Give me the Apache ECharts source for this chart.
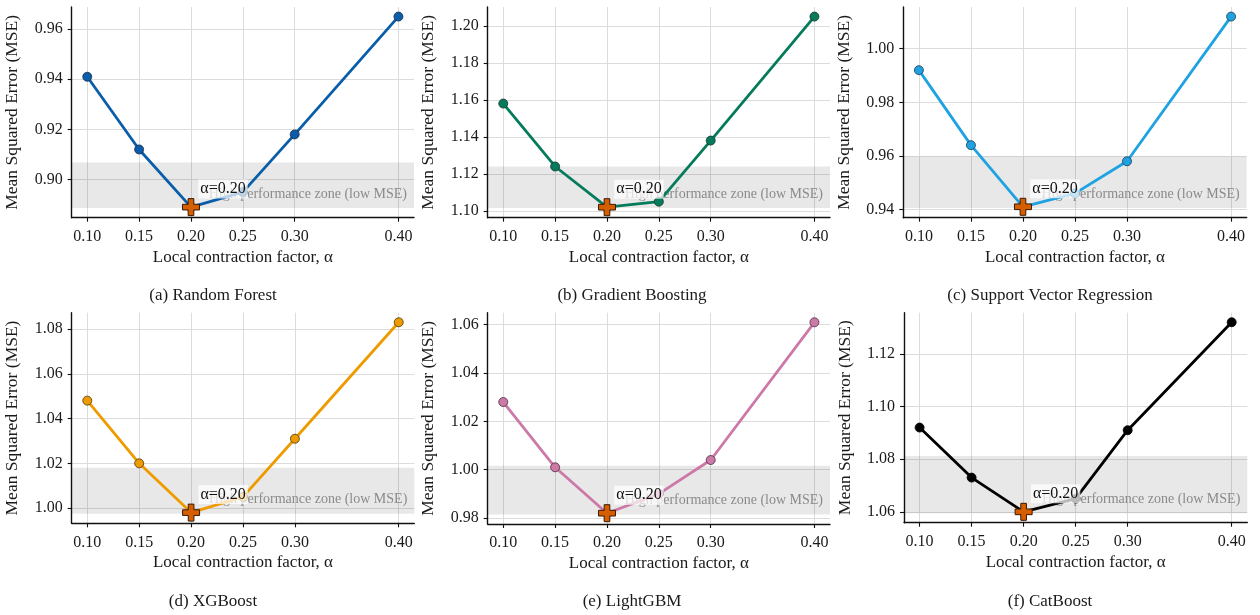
<!DOCTYPE html>
<html>
<head>
<meta charset="utf-8">
<title>MSE vs local contraction factor</title>
<script src="https://cdn.jsdelivr.net/npm/echarts@6/dist/echarts.min.js"></script>
<style>
  html, body { margin: 0; padding: 0; background: #ffffff; }
  #chart { width: 1260px; height: 615px; }
</style>
</head>
<body>
<div id="chart"></div>
<script>
// Local contraction factor values tested
const alphas = [0.10, 0.15, 0.20, 0.25, 0.30, 0.40];

// Mean squared error for each model at every alpha
const mseRandomForest = [0.941, 0.912, 0.889, 0.895, 0.918, 0.965];
const mseGradientBoosting = [1.158, 1.124, 1.102, 1.105, 1.138, 1.205];
const mseSVR = [0.992, 0.964, 0.941, 0.946, 0.958, 1.012];
const mseXGBoost = [1.048, 1.020, 0.998, 1.005, 1.031, 1.083];
const mseLightGBM = [1.028, 1.001, 0.982, 0.990, 1.004, 1.061];
const mseCatBoost = [1.092, 1.073, 1.060, 1.065, 1.091, 1.132];

const panelTitles = [
  '(a) Random Forest', '(b) Gradient Boosting', '(c) Support Vector Regression',
  '(d) XGBoost', '(e) LightGBM', '(f) CatBoost'
];

// Tick labels
const xTicks = [0.10, 0.15, 0.20, 0.25, 0.30, 0.40];
const yTicksRandomForest = [0.90, 0.92, 0.94, 0.96];
const yTicksGradientBoosting = [1.10, 1.12, 1.14, 1.16, 1.18, 1.20];
const yTicksSVR = [0.94, 0.96, 0.98, 1.00];
const yTicksXGBoost = [1.00, 1.02, 1.04, 1.06, 1.08];
const yTicksLightGBM = [0.98, 1.00, 1.02, 1.04, 1.06];
const yTicksCatBoost = [1.06, 1.08, 1.10, 1.12];

// High-performance (low MSE) band per model
const bandLow = [0.8886, 1.1015, 0.9405, 0.9975, 0.9815, 1.0595];
const bandHigh = [0.9068, 1.1240, 0.9598, 1.0180, 1.0016, 1.0812];

const bandText = 'High performance zone (low MSE)';
const xName = 'Local contraction factor, α';
const yName = 'Mean Squared Error (MSE)';

// ---------------------------------------------------------------------------
const mseSets = [mseRandomForest, mseGradientBoosting, mseSVR, mseXGBoost, mseLightGBM, mseCatBoost];
const yTickSets = [yTicksRandomForest, yTicksGradientBoosting, yTicksSVR, yTicksXGBoost, yTicksLightGBM, yTicksCatBoost];
const lineColors = ['#0A5DA9', '#067B5B', '#1EA2E2', '#EE9B00', '#CC79A7', '#000000'];
const markerEdge = ['#1c2a40', '#163328', '#1f3a4a', '#4a3610', '#4a2f3d', '#000000'];
const bestColor = '#D55E00';

// Plot rectangles (px) for the 3 x 2 layout
const plotRects = [
  { l: 71.7, t: 7, r: 414, b: 217.7 },
  { l: 487.7, t: 7, r: 830, b: 217.7 },
  { l: 903.3, t: 7, r: 1246.7, b: 217.7 },
  { l: 71.7, t: 312.7, r: 414.3, b: 523.3 },
  { l: 487.7, t: 312.7, r: 830, b: 524 },
  { l: 904, t: 312.7, r: 1247.3, b: 522.7 }
];
const captionCenters = [[213, 296], [632, 296], [1050, 296], [213, 602], [632, 602], [1050, 602]];

const FONT = '"Liberation Serif", "DejaVu Serif", serif';
const plusPath = 'path://M2,0 L4,0 L4,2 L6,2 L6,4 L4,4 L4,6 L2,6 L2,4 L0,4 L0,2 L2,2 Z';

const xPad = 0.05 * (xTicks[xTicks.length - 1] - xTicks[0]);

const grids = [], xAxes = [], yAxes = [], series = [], graphics = [];

mseSets.forEach((mse, i) => {
  const rc = plotRects[i];
  grids.push({ left: rc.l, top: rc.t, width: rc.r - rc.l, height: rc.b - rc.t, containLabel: false });

  const lo = Math.min(Math.min(...mse), bandLow[i]);
  const hi = Math.max(Math.max(...mse), bandHigh[i]);
  const yPad = 0.05 * (hi - lo);

  xAxes.push({
    type: 'value', gridIndex: i,
    min: xTicks[0] - xPad, max: xTicks[xTicks.length - 1] + xPad,
    name: xName, nameLocation: 'middle', nameGap: 31,
    nameTextStyle: { fontFamily: FONT, fontSize: 17, color: '#1a1a1a' },
    axisLine: { show: true, onZero: false, lineStyle: { color: '#111', width: 1.4 } },
    axisTick: { show: true, customValues: xTicks, length: 4, lineStyle: { color: '#111', width: 1.1 } },
    axisLabel: { customValues: xTicks, formatter: v => v.toFixed(2), fontFamily: FONT, fontSize: 16, color: '#1a1a1a', margin: 11 },
    splitLine: { show: true, lineStyle: { color: '#dcdcdc', width: 1 } }
  });

  const yTicks = yTickSets[i];
  yAxes.push({
    type: 'value', gridIndex: i,
    min: lo - yPad, max: hi + yPad,
    name: yName, nameLocation: 'middle', nameGap: 50,
    nameTextStyle: { fontFamily: FONT, fontSize: 17.5, color: '#1a1a1a' },
    axisLine: { show: true, onZero: false, lineStyle: { color: '#111', width: 1.4 } },
    axisTick: { show: true, customValues: yTicks, length: 4, lineStyle: { color: '#111', width: 1.1 } },
    axisLabel: { customValues: yTicks, formatter: v => v.toFixed(2), fontFamily: FONT, fontSize: 16, color: '#1a1a1a', margin: 9 },
    splitLine: { show: true, lineStyle: { color: '#dcdcdc', width: 1 } }
  });

  // MSE curve with the low-MSE band behind it
  series.push({
    type: 'line', xAxisIndex: i, yAxisIndex: i, z: 3,
    data: alphas.map((a, j) => [a, mse[j]]),
    symbol: 'circle', symbolSize: 9, showSymbol: true,
    lineStyle: { color: lineColors[i], width: 2.8 },
    itemStyle: { color: lineColors[i], borderColor: markerEdge[i], borderWidth: 0.8 },
    emphasis: { disabled: true },
    markArea: {
      silent: true,
      itemStyle: { color: 'rgba(0,0,0,0.09)' },
      label: {
        show: true, position: 'insideBottomRight', distance: 7,
        formatter: bandText, fontFamily: FONT, fontSize: 14, color: '#8a8a8a'
      },
      data: [[{ yAxis: bandLow[i], name: bandText }, { yAxis: bandHigh[i] }]]
    }
  });

  // Best alpha (minimum MSE) marker and its label
  const minVal = Math.min(...mse);
  const bestAlpha = alphas[mse.indexOf(minVal)];
  series.push({
    type: 'scatter', xAxisIndex: i, yAxisIndex: i, z: 6,
    data: [[bestAlpha, minVal]],
    symbol: plusPath, symbolSize: 17,
    itemStyle: { color: bestColor, borderColor: '#3b1a05', borderWidth: 1, opacity: 1 },
    emphasis: { disabled: true },
    label: {
      show: true, position: 'inside', offset: [32, -18],
      formatter: 'α=' + bestAlpha.toFixed(2),
      fontFamily: FONT, fontSize: 16, color: '#111',
      backgroundColor: 'rgba(255,255,255,0.72)', padding: [2, 2, 1, 2]
    }
  });

  graphics.push({
    type: 'text', x: captionCenters[i][0], y: captionCenters[i][1],
    style: { text: panelTitles[i], font: '17px ' + FONT, fill: '#1a1a1a', textAlign: 'center', textVerticalAlign: 'middle' }
  });
});

const chart = echarts.init(document.getElementById('chart'), null, { renderer: 'canvas' });
chart.setOption({
  animation: false,
  backgroundColor: '#ffffff',
  grid: grids,
  xAxis: xAxes,
  yAxis: yAxes,
  series: series,
  graphic: graphics
});
</script>
</body>
</html>
